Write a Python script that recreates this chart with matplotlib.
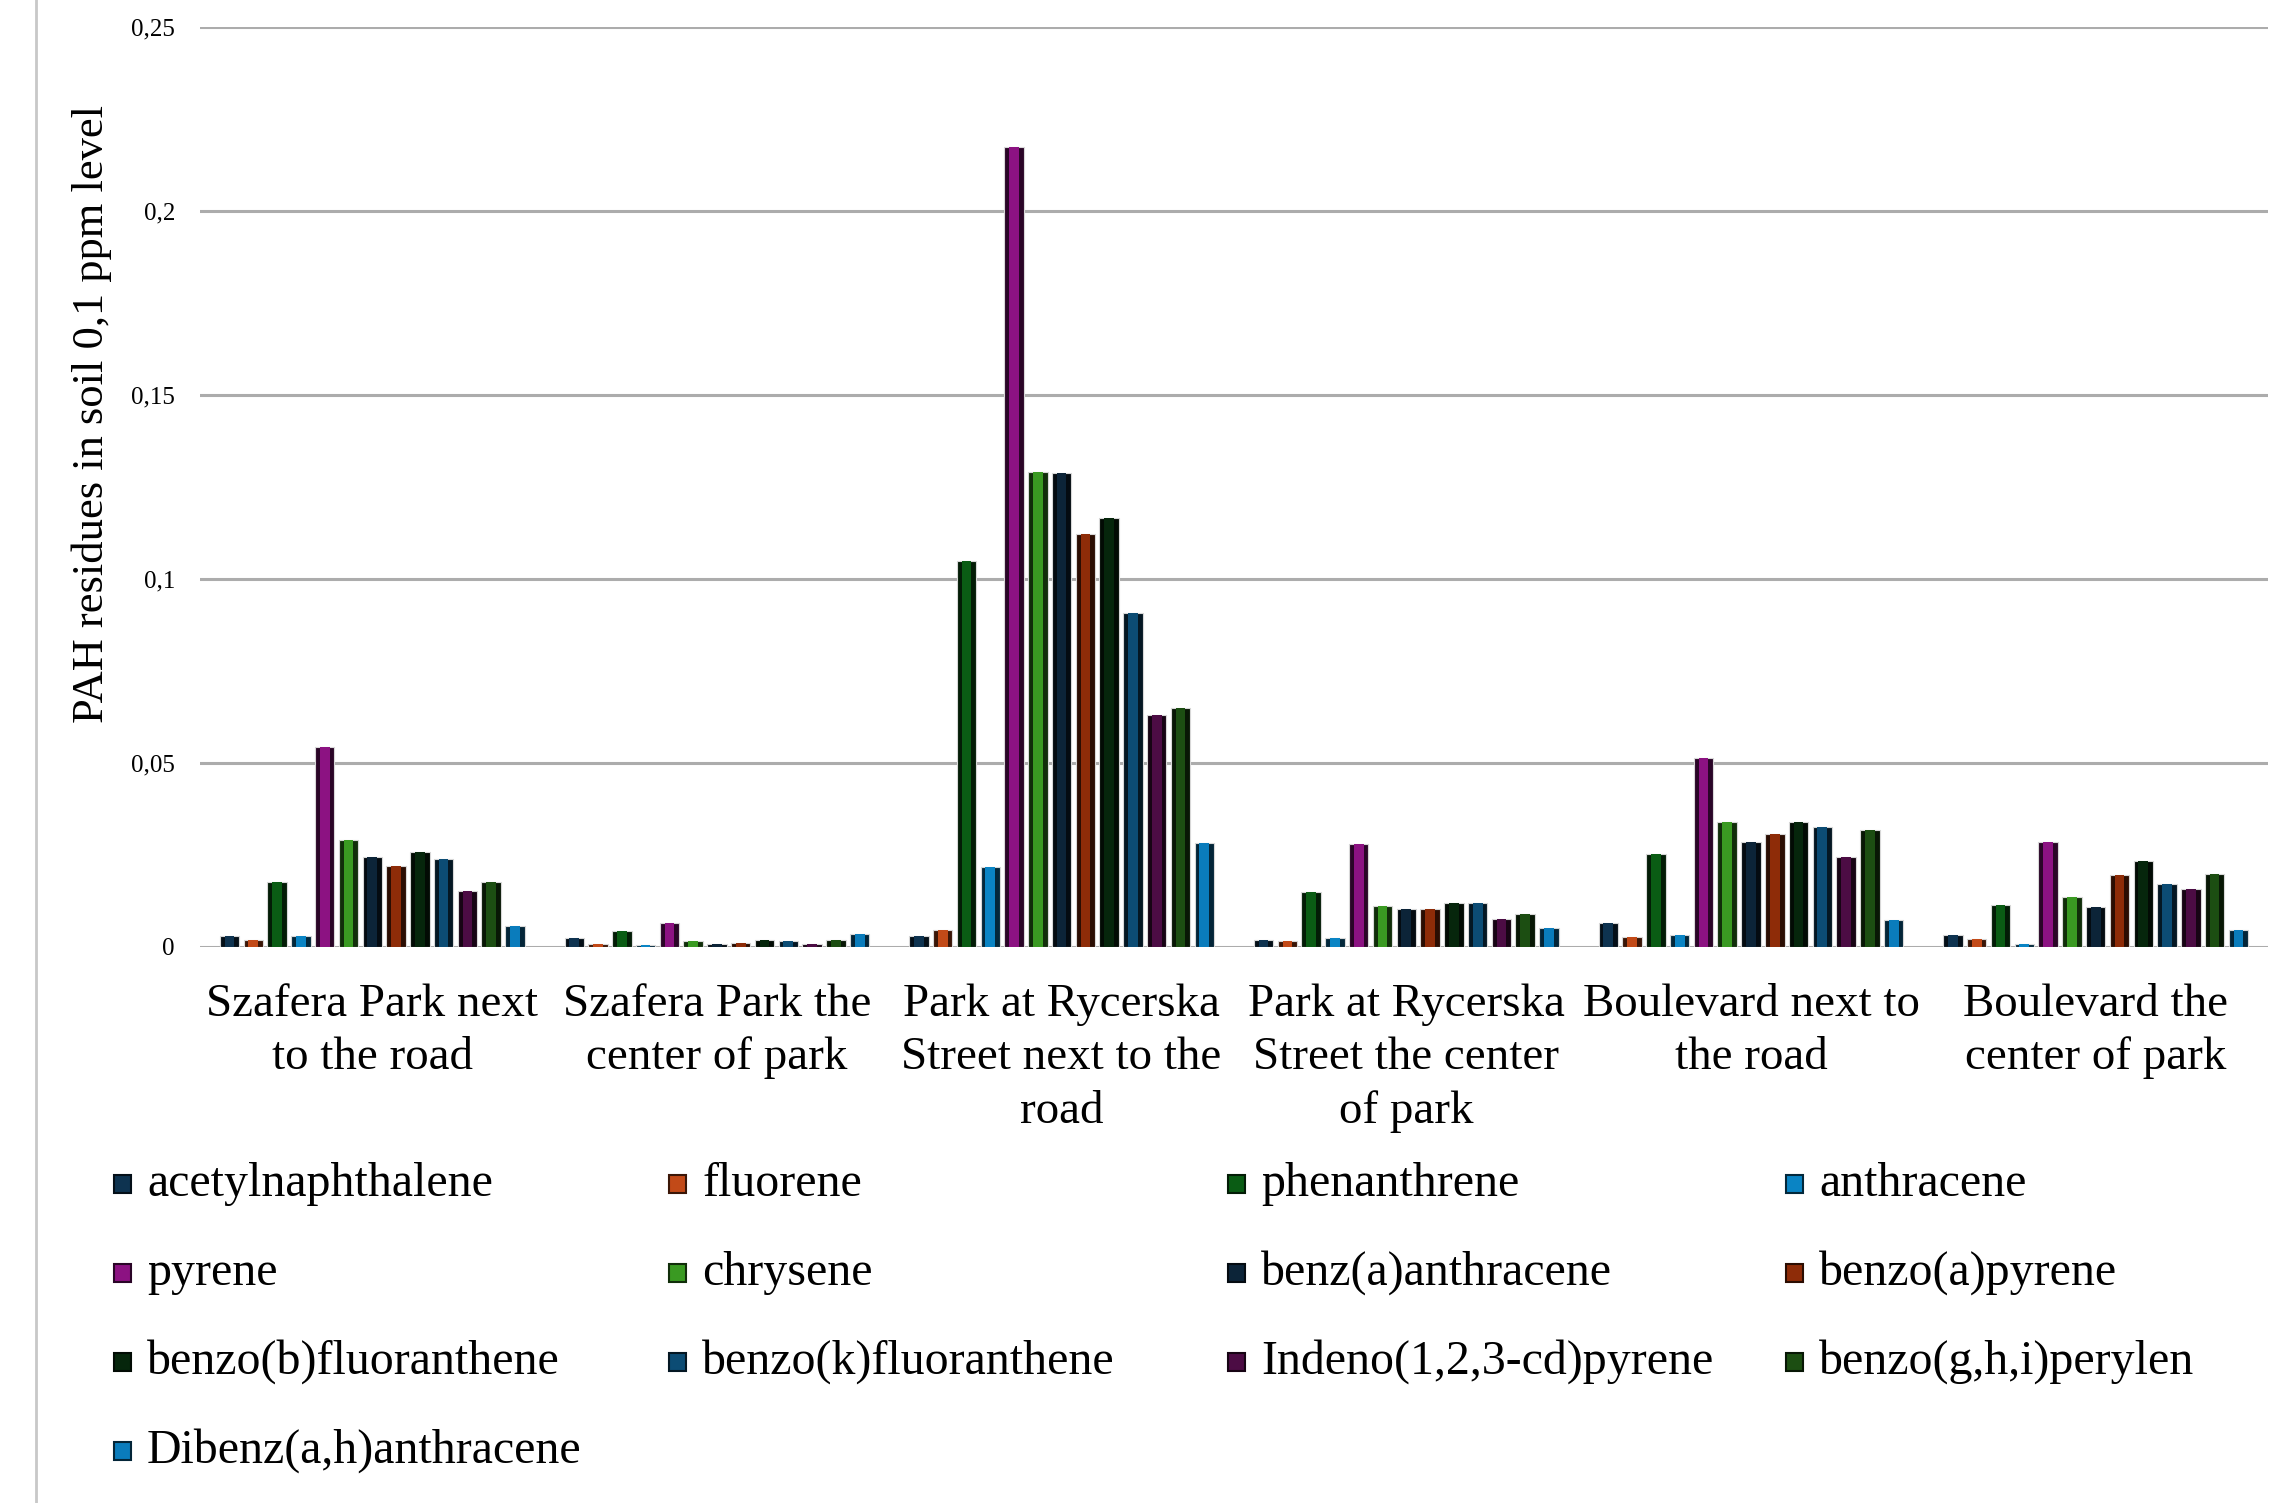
import matplotlib.pyplot as plt
import numpy as np
from matplotlib.lines import Line2D
from matplotlib.patches import Rectangle
from matplotlib.colors import to_rgb

plt.rcParams['font.family'] = ['Liberation Serif', 'DejaVu Serif']

# sampling sites
sites = ["Szafera Park next\nto the road",
         "Szafera Park the\ncenter of park",
         "Park at Rycerska\nStreet next to the\nroad",
         "Park at Rycerska\nStreet the center\nof park",
         "Boulevard next to\nthe road",
         "Boulevard the\ncenter of park"]

compounds = ["acetylnaphthalene", "fluorene", "phenanthrene", "anthracene",
             "pyrene", "chrysene", "benz(a)anthracene", "benzo(a)pyrene",
             "benzo(b)fluoranthene", "benzo(k)fluoranthene",
             "Indeno(1,2,3-cd)pyrene", "benzo(g,h,i)perylen",
             "Dibenz(a,h)anthracene"]

# PAH residues (ppm), one list per compound, values per site
acetylnaphthalene = [0.0030, 0.0025, 0.0029, 0.0020, 0.0064, 0.0032]
fluorene = [0.0020, 0.0008, 0.0047, 0.0016, 0.0028, 0.0022]
phenanthrene = [0.0177, 0.0042, 0.1048, 0.0149, 0.0252, 0.0115]
anthracene = [0.0030, 0.0004, 0.0218, 0.0024, 0.0032, 0.0007]
pyrene = [0.0544, 0.0064, 0.2175, 0.0281, 0.0514, 0.0286]
chrysene = [0.0291, 0.0015, 0.1290, 0.0110, 0.0339, 0.0136]
benz_a_anthracene = [0.0243, 0.0008, 0.1288, 0.0103, 0.0286, 0.0108]
benzo_a_pyrene = [0.0221, 0.0011, 0.1121, 0.0103, 0.0307, 0.0195]
benzo_b_fluoranthene = [0.0259, 0.0018, 0.1165, 0.0120, 0.0339, 0.0233]
benzo_k_fluoranthene = [0.0238, 0.0015, 0.0908, 0.0120, 0.0325, 0.0171]
indeno_pyrene = [0.0152, 0.0008, 0.0631, 0.0076, 0.0245, 0.0157]
benzo_ghi_perylen = [0.0177, 0.0018, 0.0650, 0.0090, 0.0318, 0.0199]
dibenz_ah_anthracene = [0.0057, 0.0036, 0.0282, 0.0052, 0.0073, 0.0046]

series = [acetylnaphthalene, fluorene, phenanthrene, anthracene, pyrene,
          chrysene, benz_a_anthracene, benzo_a_pyrene, benzo_b_fluoranthene,
          benzo_k_fluoranthene, indeno_pyrene, benzo_ghi_perylen,
          dibenz_ah_anthracene]

colors = ["#0e3350", "#c24a18", "#0a5c14", "#0a84c4", "#8c1282", "#3a9a22",
          "#0c2438", "#8e2c08", "#06260c", "#0c4c74", "#4c0c44", "#1c4e12",
          "#0a7cbc"]

yticks = [0, 0.05, 0.1, 0.15, 0.2, 0.25]
ytick_labels = ["0", "0,05", "0,1", "0,15", "0,2", "0,25"]


def shade(c, f):
    r, g, b = to_rgb(c)
    return (r * f, g * f, b * f)


fig = plt.figure(figsize=(22.9, 15.03), dpi=100)
ax = fig.add_axes([0.0873, 0.37, 0.9031, 0.612])

x = np.arange(len(sites))
step = 0.069
width = 0.0565
for i, (vals, c) in enumerate(zip(series, colors)):
    pos = x + (i - 6) * step
    # dark rim then brighter core, like shaded office-style bars
    ax.bar(pos, vals, width=width, color=shade(c, 0.3), edgecolor="#d8d8d8",
           linewidth=0.8, zorder=3)
    ax.bar(pos, vals, width=width * 0.5, color=c, linewidth=0, zorder=4)

ax.set_xlim(-0.5, len(sites) - 0.5)
ax.set_ylim(0, 0.25)
ax.set_yticks(yticks)
ax.set_yticklabels(ytick_labels, fontsize=18)
ax.set_xticks(x)
ax.set_xticklabels(sites, fontsize=33.8, linespacing=1.34)
ax.tick_params(axis="both", length=0)
ax.tick_params(axis="y", pad=18)
ax.tick_params(axis="x", pad=26)
ax.yaxis.grid(True, color="#acacac", linewidth=2.2)
ax.set_axisbelow(True)
for s in ax.spines.values():
    s.set_visible(False)

ax.set_ylabel("PAH residues in soil 0,1 ppm level", fontsize=32)
ax.yaxis.set_label_coords(-0.0425, 0.579)

# legend laid out in four even columns
col_x = [114, 669, 1228, 1786]
row_y = [1184, 1273, 1362, 1451]
W, H = 2290, 1503
for i, (name, c) in enumerate(zip(compounds, colors)):
    cx = col_x[i % 4]
    cy = row_y[i // 4]
    fig.add_artist(Rectangle((cx / W, 1 - (cy + 9) / H), 17 / W, 18 / H,
                             transform=fig.transFigure, facecolor=c,
                             edgecolor=shade(c, 0.3), linewidth=1.5))
    fig.text((cx + 33) / W, 1 - cy / H, name, fontsize=34.5, va="center",
             ha="left")

# thin frame line on the left edge
fig.add_artist(Line2D([36 / W, 36 / W], [0, 1], transform=fig.transFigure,
                      color="#c8c8c8", linewidth=2))

fig.savefig("out.png", dpi=100)
